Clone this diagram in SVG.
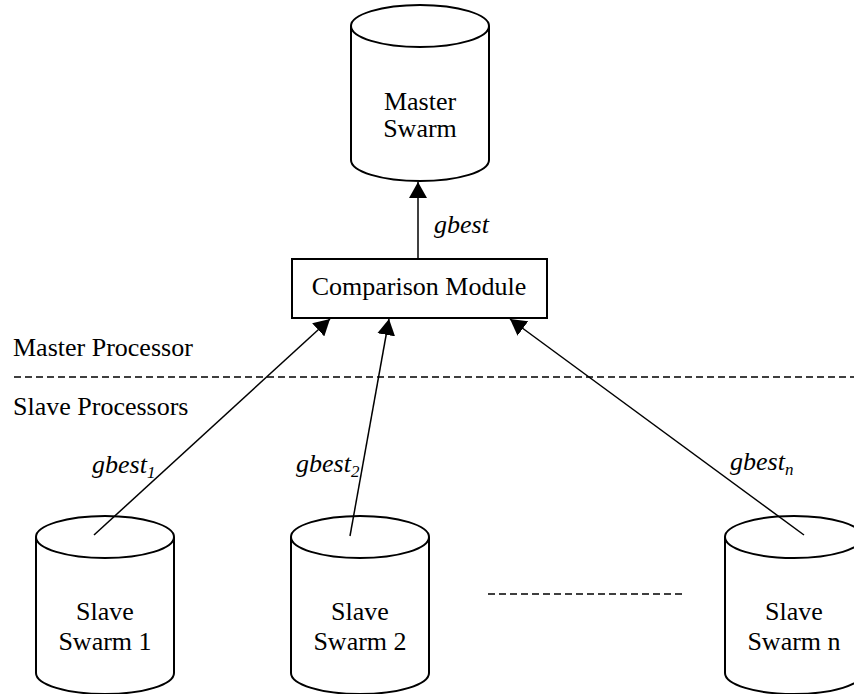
<svg xmlns="http://www.w3.org/2000/svg" width="854" height="694" viewBox="0 0 854 694">
  <style>
    .shape { fill: #fff; stroke: #000; stroke-width: 2; }
    .label { font-family: "Liberation Serif", "Times New Roman", serif; font-size: 26px; fill: #000; }
    .mid { text-anchor: middle; }
    .it { font-style: italic; }
    .sub { font-size: 17px; }
    .link { fill: none; stroke: #000; stroke-width: 1.5; }
    .dash { fill: none; stroke: #000; stroke-width: 1.5; stroke-dasharray: 7 4; }
  </style>
  <defs>
    <marker id="arrow" markerUnits="userSpaceOnUse" markerWidth="16" markerHeight="18" viewBox="0 0 16 18" refX="16" refY="9" orient="auto">
      <path d="M0,0 L16,9 L0,18 Z" fill="#000"/>
    </marker>
  </defs>

  <rect width="854" height="694" fill="#fff"/>

  <!-- processor boundary -->
  <g id="boundary">
    <text class="label" x="13" y="356">Master Processor</text>
    <line class="dash" x1="14" y1="377" x2="854" y2="377"/>
    <text class="label" x="13" y="415">Slave Processors</text>
  </g>

  <g id="master-swarm">
    <path class="shape" d="M351,26 V160 A69,21 0 0 0 489,160 V26"/>
    <ellipse class="shape" cx="420" cy="26" rx="69" ry="21"/>
    <text class="label mid" x="420" y="110">Master</text>
    <text class="label mid" x="420" y="137">Swarm</text>
  </g>

  <g id="comparison-module">
    <rect class="shape" x="292" y="259" width="255" height="59"/>
    <text class="label mid" x="419" y="295">Comparison Module</text>
  </g>

  <g id="slave-swarm-1">
    <path class="shape" d="M36,537 V673 A69,21 0 0 0 174,673 V537"/>
    <ellipse class="shape" cx="105" cy="537" rx="69" ry="21"/>
    <text class="label mid" x="105" y="620">Slave</text>
    <text class="label mid" x="105" y="650">Swarm 1</text>
  </g>

  <g id="slave-swarm-2">
    <path class="shape" d="M291,537 V673 A69,21 0 0 0 429,673 V537"/>
    <ellipse class="shape" cx="360" cy="537" rx="69" ry="21"/>
    <text class="label mid" x="360" y="620">Slave</text>
    <text class="label mid" x="360" y="650">Swarm 2</text>
  </g>

  <g id="slave-swarm-n">
    <path class="shape" d="M725,537 V673 A69,21 0 0 0 863,673 V537"/>
    <ellipse class="shape" cx="794" cy="537" rx="69" ry="21"/>
    <text class="label mid" x="794" y="620">Slave</text>
    <text class="label mid" x="794" y="650">Swarm n</text>
  </g>

  <!-- elided slave swarms -->
  <g id="ellipsis">
    <line class="dash" x1="488" y1="594" x2="682" y2="594"/>
  </g>

  <g id="connectors">
    <line class="link" x1="418" y1="259" x2="418" y2="182" marker-end="url(#arrow)"/>
    <line class="link" x1="94" y1="535" x2="330" y2="319" marker-end="url(#arrow)"/>
    <line class="link" x1="350" y1="536" x2="389" y2="319" marker-end="url(#arrow)"/>
    <line class="link" x1="804" y1="535" x2="510" y2="319" marker-end="url(#arrow)"/>
    <text class="label it" x="434" y="233">gbest</text>
    <text class="label it" x="92" y="473">gbest<tspan class="sub" dy="5">1</tspan></text>
    <text class="label it" x="296" y="472">gbest<tspan class="sub" dy="5">2</tspan></text>
    <text class="label it" x="730" y="470">gbest<tspan class="sub" dy="5">n</tspan></text>
  </g>
</svg>
